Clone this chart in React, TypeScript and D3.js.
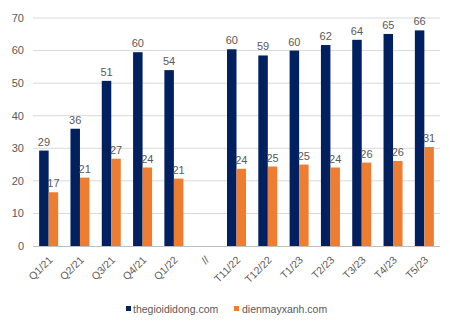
import React from "react";
import * as d3 from "d3";

const categories = ["Q1/21", "Q2/21", "Q3/21", "Q4/21", "Q1/22", "//", "T11/22", "T12/22", "T1/23", "T2/23", "T3/23", "T4/23", "T5/23"];
const tgddValues: (number | null)[] = [29.3, 36, 50.7, 59.5, 54, null, 60.4, 58.5, 60, 61.7, 63.3, 65.1, 66.2];
const dmxValues: (number | null)[] = [16.5, 21, 26.8, 24.1, 20.7, null, 23.7, 24.4, 25, 24.1, 25.6, 26.1, 30.4];
const tgddLabels = ["29", "36", "51", "60", "54", "", "60", "59", "60", "62", "64", "65", "66"];
const dmxLabels = ["17", "21", "27", "24", "21", "", "24", "25", "25", "24", "26", "26", "31"];
const yTicks = [0, 10, 20, 30, 40, 50, 60, 70];
const seriesNames = ["thegioididong.com", "dienmayxanh.com"];

const W = 450, H = 326;
const left = 33, right = 440, top = 18, bottom = 246;
const NAVY = "#002060", ORANGE = "#ED7D31", TEXT = "#595959";
const FONT = "'Liberation Sans', Arial, sans-serif";

export default function App() {
  const x = d3.scaleBand<string>().domain(categories).range([left, right]).paddingInner(0).paddingOuter(0);
  const y = d3.scaleLinear().domain([0, 70]).range([bottom, top]);
  const bw = 9.5;

  return (
    <svg width={W} height={H} style={{ position: "absolute", left: 0, top: 0, background: "#fff" }} fontFamily={FONT}>
      {yTicks.map((t) => (
        <g key={t}>
          {t > 0 && <line x1={left} x2={right} y1={y(t)} y2={y(t)} stroke="#D9D9D9" strokeWidth={1} />}
          <text x={24} y={y(t)} dy="0.35em" textAnchor="end" fontSize={11} fill={TEXT}>{t}</text>
        </g>
      ))}
      {categories.map((c, i) => {
        const cx = (x(c) as number) + x.bandwidth() / 2;
        const a = tgddValues[i], b = dmxValues[i];
        return (
          <g key={c}>
            {a != null && (
              <>
                <rect x={cx - bw} y={y(a)} width={bw} height={bottom - y(a)} fill={NAVY} />
                <text x={cx - bw / 2} y={y(a) - 5} textAnchor="middle" fontSize={11} fill={TEXT}>{tgddLabels[i]}</text>
              </>
            )}
            {b != null && (
              <>
                <rect x={cx} y={y(b)} width={bw} height={bottom - y(b)} fill={ORANGE} />
                <text x={cx + bw / 2} y={y(b) - 5} textAnchor="middle" fontSize={11} fill={TEXT}>{dmxLabels[i]}</text>
              </>
            )}
            <text transform={`translate(${cx + 2},${bottom + 12}) rotate(-45)`} textAnchor="end" dy="0.35em" fontSize={10.5} fill={TEXT}>{c}</text>
          </g>
        );
      })}
      <line x1={left} x2={right} y1={bottom + 0.5} y2={bottom + 0.5} stroke="#BFBFBF" strokeWidth={1} />
      <g>
        <rect x={126} y={306} width={5} height={5} fill={NAVY} />
        <text x={133} y={309} dy="0.35em" fontSize={10.5} fill={TEXT}>{seriesNames[0]}</text>
        <rect x={234} y={306} width={5} height={5} fill={ORANGE} />
        <text x={242} y={309} dy="0.35em" fontSize={10.5} fill={TEXT}>{seriesNames[1]}</text>
      </g>
    </svg>
  );
}
